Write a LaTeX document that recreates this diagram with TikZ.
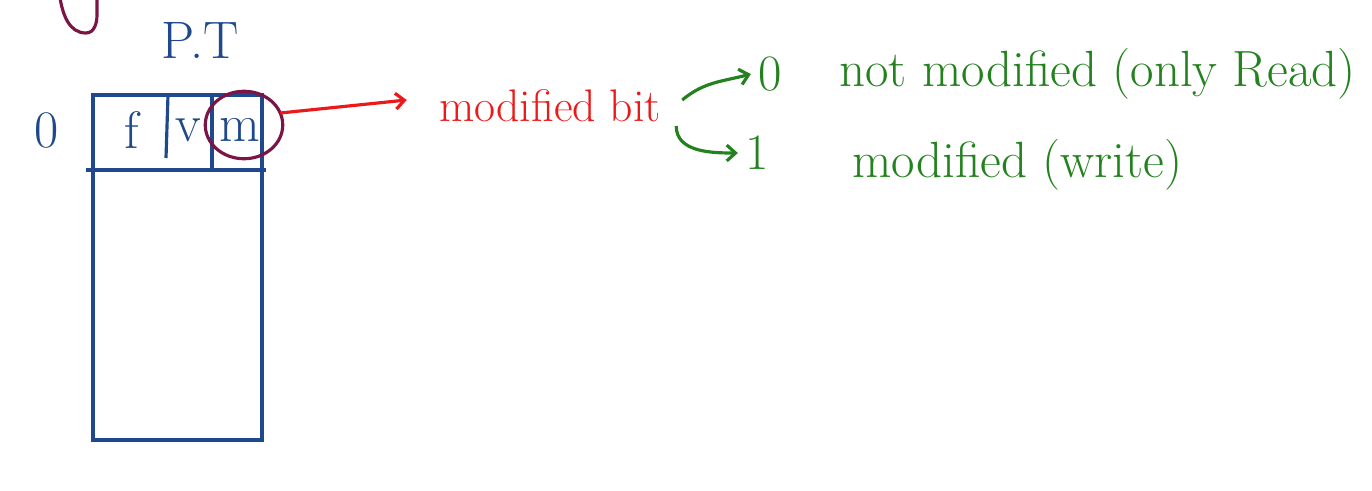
\documentclass[tikz,border=0pt]{standalone}
\usepackage{tikz}
\usetikzlibrary{calc, positioning, shapes.geometric, arrows.meta}

\definecolor{penBlue}{RGB}{32,72,140}
\definecolor{penRed}{RGB}{235,25,25}
\definecolor{penGreen}{RGB}{35,130,30}
\definecolor{penPurple}{RGB}{125,20,70}

\tikzset{
	blueInk/.style = {text = penBlue, font = \fontsize{30}{34}\selectfont},
	greenInk/.style = {text = penGreen, font = \fontsize{29}{34}\selectfont},
	redInk/.style = {text = penRed, font = \fontsize{26}{30}\selectfont},
	penTip/.style = {-{Straight Barb[length = 5pt, width = 9pt]}}
}

\begin{document}
\begin{tikzpicture}[x = 0.02cm, y = -0.02cm, line width = 1.8pt]

		% canvas
		\useasboundingbox[fill = white] (0, 0) rectangle (1372, 490);

		% constant definitions
		\def\rowTop{95}
		\def\rowBottom{170}

		% leftover stroke from the previous sketch
		\draw[penPurple] (60, -2) to [out = 280, in = 180] (86, 33) to [out = 0, in = 270] (97, 15) -- (97, -2);

		% page table
		\begin{scope}

			\coordinate (TL) at (93, \rowTop);
			\coordinate (BR) at (262, 440);

			\node[blueInk] (ptLabel) at (200, 40) {P.T};
			\node[blueInk] (rowNum) at (47, 131) {0};

			\draw[penBlue] (TL) rectangle (BR);
			\draw[penBlue] (86, \rowBottom) -- (266, \rowBottom);
			\draw[penBlue] (168, \rowTop) -- (166, 158);
			\draw[penBlue] (212, \rowTop) -- (212, \rowBottom);

			% entry fields
			\foreach \field/\fx in {f/132, v/188, m/240} {
				\node[blueInk] (\field Field) at (\fx, 130) {\field};
			}

			% marked bit
			\node[draw = penPurple, ellipse, minimum width = 1.55cm, minimum height = 1.35cm] (mRing) at (244, 125) {};

		\end{scope}

		% explanation
		\node[redInk] (modBit) at (550, 106) {modified bit};
		\node[greenInk] (zeroVal) at (770, 74) {0};
		\node[greenInk] (oneVal) at (757, 153) {1};
		\node[greenInk, anchor = west] (notMod) at (832, 74) {not modified (only Read)};
		\node[greenInk, anchor = west] (yesMod) at (845, 165) {modified (write)};

		% pointers
		\draw[penRed, penTip] ($(mRing.east) + (-4, -12)$) -- ($(modBit.west) + (-25, -6)$);
		\draw[penGreen, penTip] (modBit.east) ++ (14, -6) to [out = 40, in = 195] (zeroVal.west);
		\draw[penGreen, penTip] ($(modBit.east) + (8, 20)$) to [out = 270, in = 180] (oneVal.west);

	\end{tikzpicture}
\end{document}
